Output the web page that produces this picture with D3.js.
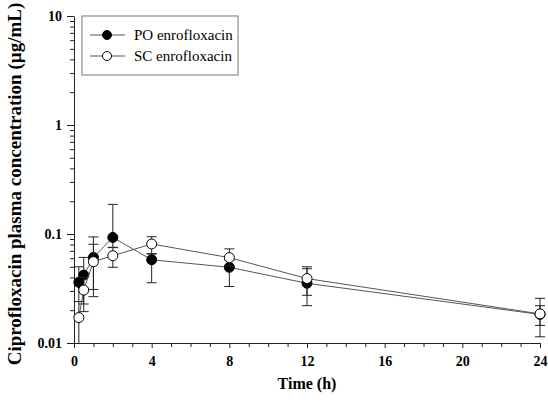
<!DOCTYPE html>
<html>
<head>
<meta charset="utf-8">
<script src="https://cdn.jsdelivr.net/npm/d3@7"></script>
<style>
  body { margin: 0; background: #fff; }
  text { font-family: "Liberation Serif", "Times New Roman", serif; }
</style>
</head>
<body>
<div id="chart"></div>
<script>
// sampling times (h)
var times = [0.25, 0.5, 1, 2, 4, 8, 12, 24];

// PO enrofloxacin
var poMean  = [0.036, 0.042, 0.061, 0.093, 0.058, 0.0495, 0.0353, 0.0183];
var poUpper = [0.050, 0.061, 0.094, 0.187, 0.0655, 0.058, 0.048, 0.022];
var poLower = [0.024, 0.0228, 0.0266, 0.075, 0.0357, 0.033, 0.022, 0.0145];

// SC enrofloxacin
var scMean  = [0.0171, 0.0306, 0.0557, 0.0632, 0.081, 0.0607, 0.039, 0.0185];
var scUpper = [0.024, 0.040, 0.0805, 0.0755, 0.0945, 0.073, 0.050, 0.0257];
var scLower = [0.005, 0.0194, 0.031, 0.0495, 0.066, 0.051, 0.0274, 0.0114];

var xTicks = [0, 4, 8, 12, 16, 20, 24];
var yTicks = [0.01, 0.1, 1, 10];

const width = 548;
const height = 410;
const margin = { left: 74, right: 8, top: 16, bottom: 67 };

const svg = d3.select("#chart")
    .append("svg")
    .attr("width", width)
    .attr("height", height);

const x = d3.scaleLinear()
    .domain([0, 24])
    .range([margin.left, width - margin.right]);

const y = d3.scaleLog()
    .domain([0.01, 10])
    .range([height - margin.bottom, margin.top]);

// minor ticks
var yMinor = [];
[0.01, 0.1, 1].forEach(function (d) {
    for (var k = 2; k <= 9; k++) yMinor.push(d * k);
});
var xMinor = d3.range(0, 25, 1).filter(d => d % 4 !== 0);

// x axis
svg.append("g")
    .attr("transform", `translate(0,${y(0.01)})`)
    .call(d3.axisBottom(x).tickValues(xMinor).tickSize(4).tickFormat(""))
    .call(g => g.select(".domain").remove());

const xAxis = svg.append("g")
    .attr("transform", `translate(0,${y(0.01)})`)
    .call(d3.axisBottom(x).tickValues(xTicks).tickSize(5).tickSizeOuter(0).tickPadding(8));

// y axis
svg.append("g")
    .attr("transform", `translate(${x(0)},0)`)
    .call(d3.axisLeft(y).tickValues(yMinor).tickSize(4).tickFormat(""))
    .call(g => g.select(".domain").remove());

const yAxis = svg.append("g")
    .attr("transform", `translate(${x(0)},0)`)
    .call(d3.axisLeft(y).tickValues(yTicks).tickSize(7).tickSizeOuter(0).tickPadding(5)
        .tickFormat(d => d >= 1 ? d3.format("d")(d) : String(d)));

svg.selectAll(".tick line, .domain").attr("stroke", "#222");
[xAxis, yAxis].forEach(function (ax) {
    ax.selectAll("text")
        .attr("fill", "#000")
        .style("font-size", "14px")
        .style("font-weight", "bold");
});

// axis titles
svg.append("text")
    .attr("x", 307)
    .attr("y", 389)
    .attr("text-anchor", "middle")
    .style("font-size", "16px")
    .style("font-weight", "bold")
    .text("Time (h)");

svg.append("text")
    .attr("transform", "translate(21,184) rotate(-90)")
    .attr("text-anchor", "middle")
    .style("font-size", "19px")
    .style("font-weight", "bold")
    .text("Ciprofloxacin plasma concentration (\u00b5g/mL)");

function drawSeries(mean, lower, upper) {
    var pts = times.map((t, i) => ({ t: t, m: mean[i], lo: lower[i], hi: upper[i] }));
    const g = svg.append("g");

    // error bars
    const eb = g.selectAll(".eb").data(pts).enter().append("g");
    eb.append("line")
        .attr("x1", d => x(d.t)).attr("x2", d => x(d.t))
        .attr("y1", d => y(Math.max(d.lo, 0.01)))
        .attr("y2", d => y(d.hi))
        .attr("stroke", "#222").attr("stroke-width", 1);
    eb.append("line")
        .attr("x1", d => x(d.t) - 5).attr("x2", d => x(d.t) + 5)
        .attr("y1", d => y(d.hi)).attr("y2", d => y(d.hi))
        .attr("stroke", "#222").attr("stroke-width", 1);
    eb.filter(d => d.lo > 0.01).append("line")
        .attr("x1", d => x(d.t) - 5).attr("x2", d => x(d.t) + 5)
        .attr("y1", d => y(d.lo)).attr("y2", d => y(d.lo))
        .attr("stroke", "#222").attr("stroke-width", 1);

    // line
    g.append("path")
        .datum(pts)
        .attr("fill", "none")
        .attr("stroke", "#555")
        .attr("stroke-width", 1)
        .attr("d", d3.line().x(d => x(d.t)).y(d => y(d.m)));

    return { g: g, pts: pts };
}

var po = drawSeries(poMean, poLower, poUpper);
var sc = drawSeries(scMean, scLower, scUpper);

// markers on top
po.g.selectAll("circle").data(po.pts).enter().append("circle")
    .attr("cx", d => x(d.t)).attr("cy", d => y(d.m)).attr("r", 5)
    .attr("fill", "#000").attr("stroke", "#000");
sc.g.selectAll("circle").data(sc.pts).enter().append("circle")
    .attr("cx", d => x(d.t)).attr("cy", d => y(d.m)).attr("r", 5)
    .attr("fill", "#fff").attr("stroke", "#000");

// legend
const legend = svg.append("g");
legend.append("rect")
    .attr("x", 82).attr("y", 16)
    .attr("width", 156).attr("height", 59)
    .attr("fill", "#fff")
    .attr("stroke", "#777");

var legendItems = [
    { title: "PO enrofloxacin", fill: "#000" },
    { title: "SC enrofloxacin", fill: "#fff" }
];
const li = legend.selectAll(".li").data(legendItems).enter().append("g")
    .attr("transform", (d, i) => `translate(0,${35 + i * 21})`);
li.append("line")
    .attr("x1", 90).attr("x2", 125)
    .attr("stroke", "#555");
li.append("circle")
    .attr("cx", 107).attr("r", 4.5)
    .attr("fill", d => d.fill).attr("stroke", "#000");
li.append("text")
    .attr("x", 134).attr("y", 5)
    .style("font-size", "15px")
    .text(d => d.title);
</script>
</body>
</html>
